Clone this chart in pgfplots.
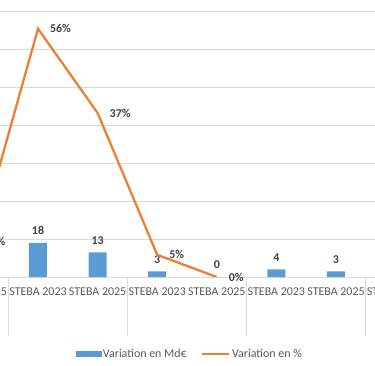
\documentclass[border=0pt]{standalone}
\usepackage{pgfplots}
\pgfplotsset{compat=1.18}
\usepackage{fontspec}
\setmainfont{Carlito}
\definecolor{barblue}{HTML}{5B9BD5}
\definecolor{lineorange}{HTML}{ED7D31}
\definecolor{gridgray}{HTML}{D9D9D9}
\definecolor{txtgray}{HTML}{595959}
\definecolor{lblgray}{HTML}{404040}
\begin{document}
\begin{tikzpicture}[x=1bp,y=1bp]
\useasboundingbox (0,0) rectangle (375,366);
\clip (0,0) rectangle (375,366);
\begin{axis}[
  at={(-51.4bp,89bp)}, anchor=south west,
  scale only axis, width=476.8bp, height=266bp,
  xmin=-1.5, xmax=6.5, ymin=0, ymax=140,
  axis x line*=bottom, axis y line*=left,
  x axis line style={draw=gridgray, line width=0.75bp, -},
  y axis line style={draw=none},
  ytick={0,20,...,140}, yticklabels={}, ymajorgrids,
  grid style={draw=gridgray, line width=0.75bp},
  ytick style={draw=none},
  xtick={-1,0,...,6},
  xticklabels={STEBA 2025,STEBA 2023,STEBA 2025,STEBA 2023,STEBA 2025,STEBA 2023,STEBA 2025,STEBA 2023},
  xticklabel style={anchor=base, yshift=-18.3bp, inner sep=0pt, font=\fontsize{12}{14}\selectfont, text=txtgray},
  tick style={draw=gridgray, line width=0.75bp},
  major tick length=0pt,
  extra x ticks={-0.5,1.5,3.5,5.5},
  extra x tick labels={},
  extra x tick style={major tick length=59bp, tick align=outside, tick style={draw=gridgray, line width=0.75bp}},
  legend style={at={(0.5057,-0.2895)}, anchor=center, draw=none, fill=none,
    legend columns=2, font=\fontsize{12}{14}\selectfont, text=txtgray,
    /tikz/every even column/.append style={column sep=12bp},
    legend cell align=left},
]
\addplot[ybar, bar width=18bp, fill=barblue, draw=none, forget plot,
  nodes near coords={\pgfmathprintnumber[assume math mode=true]{\pgfplotspointmeta}},
  every node near coord/.append style={anchor=base, inner sep=0pt, yshift=8.2bp,
    font=\bfseries\fontsize{12}{14}\selectfont, text=lblgray}]
  coordinates {(0,18) (1,13) (2,3) (3,0) (4,4) (5,3)};
\addlegendimage{legend image code/.code={\fill[barblue] (0bp,-2.4bp) rectangle (25bp,2.4bp);}}
\addlegendentry{Variation en Md€}
\addlegendimage{legend image code/.code={\draw[lineorange, line width=2.25bp] (0bp,0bp) -- (27bp,0bp);}}
\addlegendentry{Variation en \%}
\node[anchor=base, inner sep=0pt, font=\fontsize{12}{14}\selectfont, text=txtgray] at (axis cs:0.5,0) [yshift=-42bp] {Marché};
\node[anchor=base, inner sep=0pt, font=\fontsize{12}{14}\selectfont, text=txtgray] at (axis cs:2.5,0) [yshift=-42bp] {Opérationnel};
\node[anchor=base, inner sep=0pt, font=\fontsize{12}{14}\selectfont, text=txtgray] at (axis cs:4.5,0) [yshift=-41.5bp] {Autre (variation en \%};
\node[anchor=base, inner sep=0pt, font=\fontsize{12}{14}\selectfont, text=txtgray] at (axis cs:4.5,0) [yshift=-54.5bp] {non representée)};
\end{axis}
\begin{axis}[
  at={(-51.4bp,89bp)}, anchor=south west,
  scale only axis, width=476.8bp, height=266bp,
  xmin=-1.5, xmax=6.5, ymin=0, ymax=60,
  hide axis,
]
\addplot[lineorange, line width=2.25bp, mark=none,
  nodes near coords={\pgfmathprintnumber[assume math mode=true]{\pgfplotspointmeta}\%},
  every node near coord/.append style={anchor=west, inner sep=0pt, xshift=11bp,
    font=\bfseries\fontsize{12}{14}\selectfont, text=lblgray}]
  coordinates {(-1,8) (0,56) (1,37) (2,5) (3,0)};
\end{axis}
\end{tikzpicture}
\end{document}
